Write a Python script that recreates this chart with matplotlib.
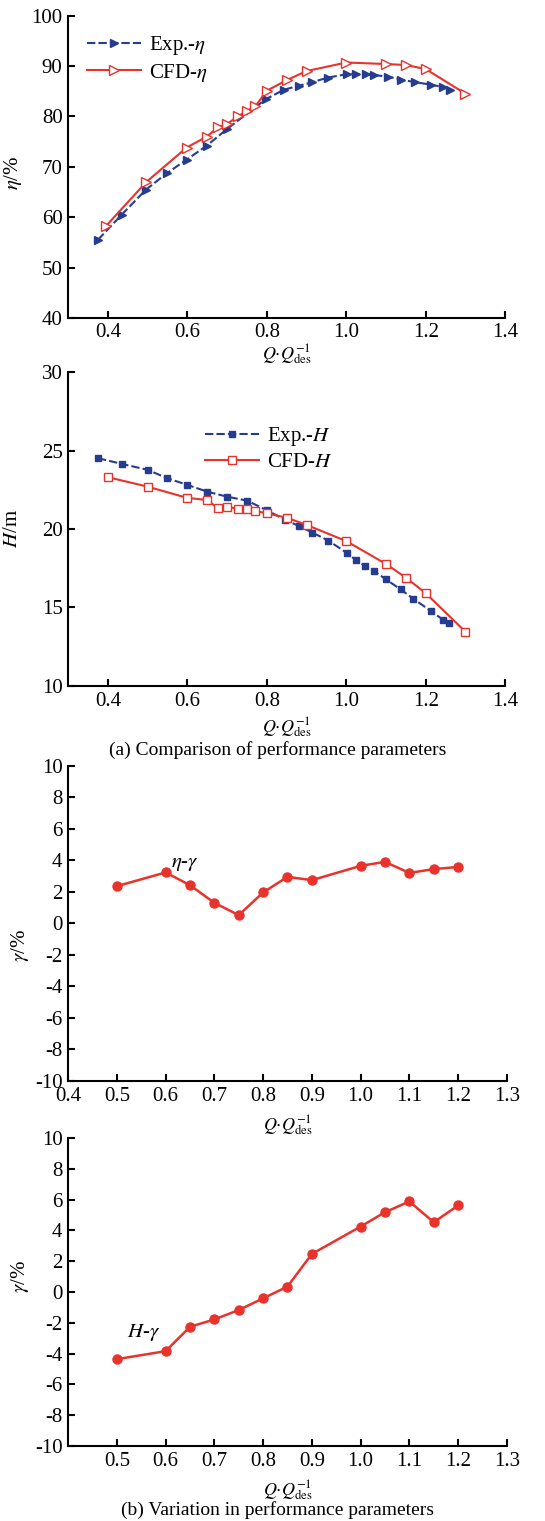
import matplotlib

matplotlib.use("Agg")
import matplotlib.pyplot as plt

plt.rcParams["font.family"] = ["Liberation Serif", "DejaVu Serif"]
plt.rcParams["mathtext.fontset"] = "stix"
plt.rcParams["axes.unicode_minus"] = False

# Data
exp_eta_q = [0.375, 0.435, 0.495, 0.548, 0.598, 0.649, 0.70, 0.797, 0.843, 0.881, 0.915,
             0.953, 1.003, 1.024, 1.05, 1.071, 1.105, 1.138, 1.172, 1.214, 1.244, 1.261]
exp_eta = [55.5, 60.5, 65.4, 68.7, 71.4, 74.2, 77.5, 83.4, 85.3, 86.1, 86.8,
           87.7, 88.4, 88.4, 88.4, 88.2, 87.9, 87.3, 86.8, 86.3, 85.8, 85.3]
cfd_eta_q = [0.396, 0.497, 0.598, 0.649, 0.677, 0.70, 0.727, 0.75, 0.771, 0.80,
             0.85, 0.90, 1.0, 1.1, 1.15, 1.2, 1.3]
cfd_eta = [58.3, 67.0, 73.8, 76.0, 77.8, 78.5, 80.0, 81.1, 82.0, 85.1,
           87.2, 89.0, 90.7, 90.4, 90.2, 89.4, 84.5]

exp_h_q = [0.375, 0.435, 0.50, 0.55, 0.60, 0.65, 0.70, 0.75, 0.80, 0.845, 0.88, 0.915,
           0.955, 1.003, 1.025, 1.048, 1.07, 1.10, 1.137, 1.168, 1.212, 1.243, 1.258]
exp_h = [24.51, 24.15, 23.77, 23.23, 22.81, 22.38, 22.06, 21.81, 21.2, 20.6, 20.2, 19.77,
         19.26, 18.45, 18.0, 17.64, 17.32, 16.79, 16.15, 15.57, 14.79, 14.23, 14.04]
cfd_h_q = [0.40, 0.50, 0.60, 0.65, 0.677, 0.70, 0.728, 0.75, 0.77, 0.80, 0.85, 0.90,
           1.0, 1.1, 1.15, 1.2, 1.3]
cfd_h = [23.3, 22.7, 21.98, 21.85, 21.32, 21.43, 21.26, 21.26, 21.15, 21.0, 20.72, 20.26,
         19.23, 17.77, 16.9, 15.91, 13.45]

gamma_q = [0.5, 0.6, 0.65, 0.7, 0.75, 0.8, 0.85, 0.9, 1.0, 1.05, 1.1, 1.15, 1.2]
eta_gamma = [2.37, 3.24, 2.43, 1.31, 0.53, 1.97, 2.96, 2.75, 3.66, 3.91, 3.21, 3.45, 3.59]
h_gamma = [-4.36, -3.84, -2.26, -1.78, -1.17, -0.41, 0.35, 2.47, 4.25, 5.18, 5.88, 4.53, 5.62]

blue = "#253c8f"
red = "#e8322c"
xlab = r"$Q{\cdot}Q_{\mathrm{des}}^{-1}$"

fig = plt.figure(figsize=(5.45, 15.21), dpi=100)


def style(ax):
    ax.spines["top"].set_visible(False)
    ax.spines["right"].set_visible(False)
    ax.spines["left"].set_linewidth(1.5)
    ax.spines["bottom"].set_linewidth(1.5)
    ax.tick_params(direction="in", length=5, width=1.5, labelsize=15, pad=4)


# (a) efficiency
ax1 = fig.add_axes([0.125, 0.791, 0.802, 0.1987])
style(ax1)
ax1.plot(exp_eta_q, exp_eta, color=blue, lw=1.5, ls=(0, (4, 1.5)), marker=">", ms=6,
         mfc=blue, mec=blue, label=r"Exp.-$\eta$")
ax1.plot(cfd_eta_q, cfd_eta, "-", color=red, lw=1.5, marker=">", ms=7,
         mfc="white", mec=red, label=r"CFD-$\eta$")
ax1.set_xlim(0.3, 1.4)
ax1.set_ylim(40, 100)
ax1.set_xticks([0.4, 0.6, 0.8, 1.0, 1.2, 1.4])
ax1.set_yticks(range(40, 101, 10))
ax1.set_xlabel(xlab, fontsize=13, labelpad=0)
ax1.set_ylabel(r"$\eta$/%", fontsize=15)
ax1.yaxis.set_label_coords(-0.1, 0.48)
ax1.legend(loc="upper left", bbox_to_anchor=(0.0, 1.0), frameon=False, fontsize=15,
           handlelength=2.6, handletextpad=0.4, labelspacing=0.2, numpoints=1)

# (a) head
ax2 = fig.add_axes([0.125, 0.549, 0.802, 0.2064])
style(ax2)
ax2.plot(exp_h_q, exp_h, color=blue, lw=1.5, ls=(0, (4, 1.5)), marker="s", ms=5,
         mfc=blue, mec=blue, label=r"Exp.-$H$")
ax2.plot(cfd_h_q, cfd_h, "-", color=red, lw=1.5, marker="s", ms=6,
         mfc="white", mec=red, label=r"CFD-$H$")
ax2.set_xlim(0.3, 1.4)
ax2.set_ylim(10, 30)
ax2.set_xticks([0.4, 0.6, 0.8, 1.0, 1.2, 1.4])
ax2.set_yticks(range(10, 31, 5))
ax2.set_xlabel(xlab, fontsize=13, labelpad=4)
ax2.set_ylabel(r"$H$/m", fontsize=15)
ax2.yaxis.set_label_coords(-0.105, 0.5)
ax2.legend(loc="upper left", bbox_to_anchor=(0.27, 0.89), frameon=False, fontsize=15,
           handlelength=2.6, handletextpad=0.4, labelspacing=0.2, numpoints=1)
fig.text(0.51, 0.507, "(a) Comparison of performance parameters", ha="center",
         va="center", fontsize=14)

# (b) efficiency deviation
ax3 = fig.add_axes([0.125, 0.2893, 0.805, 0.2071])
style(ax3)
ax3.plot(gamma_q, eta_gamma, "-", color=red, lw=1.8, marker="o", ms=6.5,
         mfc=red, mec=red)
ax3.set_xlim(0.4, 1.3)
ax3.set_ylim(-10, 10)
ax3.set_xticks([0.4, 0.5, 0.6, 0.7, 0.8, 0.9, 1.0, 1.1, 1.2, 1.3])
ax3.set_xticklabels(["0.4", "0.5", "0.6", "0.7", "0.8", "0.9", "1.0", "1.1", "1.2", "1.3"])
ax3.set_yticks(range(-10, 11, 2))
ax3.set_xlabel(xlab, fontsize=13, labelpad=6)
ax3.set_ylabel(r"$\gamma$/%", fontsize=15)
ax3.yaxis.set_label_coords(-0.085, 0.43)
ax3.text(0.612, 3.8, r"$\eta$-$\gamma$", fontsize=15, ha="left", va="center")

# (b) head deviation
ax4 = fig.add_axes([0.125, 0.0493, 0.805, 0.2025])
style(ax4)
ax4.plot(gamma_q, h_gamma, "-", color=red, lw=1.8, marker="o", ms=6.5,
         mfc=red, mec=red)
ax4.set_xlim(0.4, 1.3)
ax4.set_ylim(-10, 10)
ax4.set_xticks([0.5, 0.6, 0.7, 0.8, 0.9, 1.0, 1.1, 1.2, 1.3])
ax4.set_xticklabels(["0.5", "0.6", "0.7", "0.8", "0.9", "1.0", "1.1", "1.2", "1.3"])
ax4.set_yticks(range(-10, 11, 2))
ax4.set_xlabel(xlab, fontsize=13, labelpad=6)
ax4.set_ylabel(r"$\gamma$/%", fontsize=15)
ax4.yaxis.set_label_coords(-0.085, 0.55)
ax4.text(0.52, -2.6, r"$H$-$\gamma$", fontsize=15, ha="left", va="center")
fig.text(0.51, 0.007, "(b) Variation in performance parameters", ha="center",
         va="center", fontsize=14)

fig.savefig("out.png", dpi=100)
